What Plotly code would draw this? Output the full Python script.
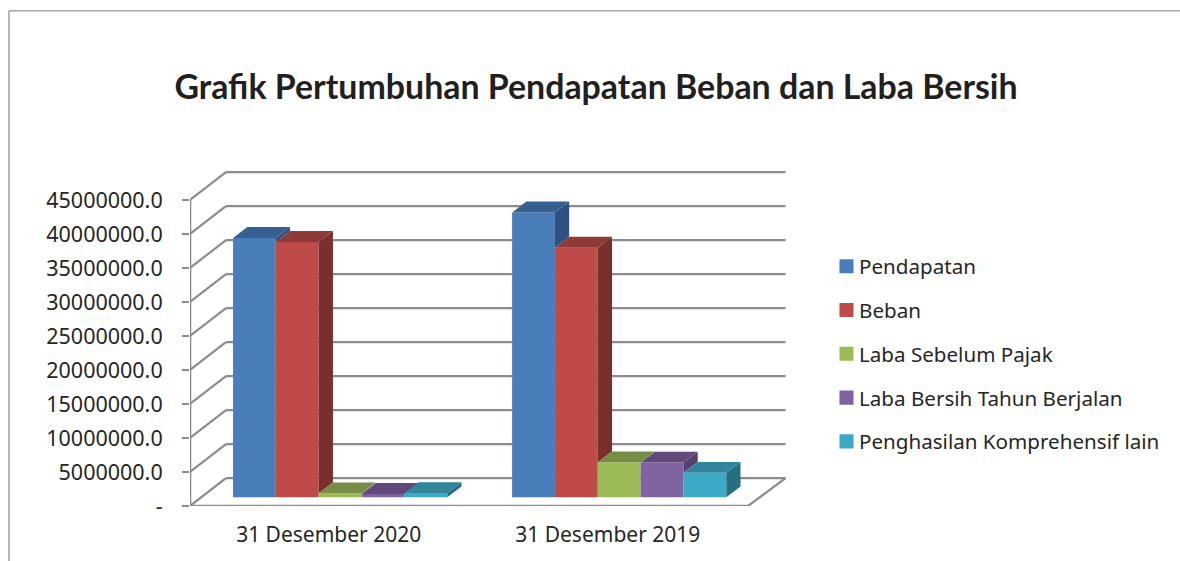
import plotly.graph_objects as go

periods = ["31 Desember 2020", "31 Desember 2019"]
pendapatan = [38150000, 41900000]
beban = [37550000, 36700000]
laba_sebelum_pajak = [590000, 5140000]
laba_bersih = [500000, 5100000]
penghasilan_komprehensif = [630000, 3600000]
series_names = ["Pendapatan", "Beban", "Laba Sebelum Pajak",
                "Laba Bersih Tahun Berjalan", "Penghasilan Komprehensif lain"]
y_ticks = [0, 5000000, 10000000, 15000000, 20000000, 25000000, 30000000,
           35000000, 40000000, 45000000]
y_labels = ["-"] + [f"{v}.0" for v in y_ticks[1:]]

all_series = [pendapatan, beban, laba_sebelum_pajak, laba_bersih, penghasilan_komprehensif]
front = ["#4a7ebb", "#be4b48", "#9bbb59", "#7f63a1", "#3caac6"]
top = ["#376092", "#8e3a38", "#768d45", "#604a7b", "#31859c"]
side = ["#2f5280", "#7b2f2d", "#65793b", "#54406c", "#256f80"]
GRID = "#8c8c8c"
TEXT = "#262626"

# geometry, in axis units
W = 0.1535           # bar width
WALL_DX, WALL_DY = 0.129, 4110000   # depth of the floor
BAR_DX, BAR_DY = 0.051, 1600000     # depth of a bar
OFF_DX, OFF_DY = 0.038, 1280000     # bar front plane behind the axis plane
XMIN, XMAX = -0.5, 1.65
YMAX = 50000000
FRONT_END = 1.5
BACK_END = 1.634

# plot rectangle in pixels
PW, PH = 1180, 561
L, R, T, B = 190, 790, 165.5, 506

fig = go.Figure()
shapes = []


def line(x0, y0, x1, y1, width=2.2):
    shapes.append(dict(type="line", xref="x", yref="y", x0=x0, y0=y0, x1=x1, y1=y1,
                       layer="below", line=dict(color=GRID, width=width)))


for v in y_ticks:
    line(XMIN, v, XMIN + WALL_DX, v + WALL_DY)
    line(XMIN + WALL_DX, v + WALL_DY, BACK_END, v + WALL_DY)
line(XMIN, 0, XMIN, y_ticks[-1], 2.6)
line(XMIN, 0, FRONT_END, 0, 2.6)
line(FRONT_END, 0, BACK_END, WALL_DY)

# front faces
for i, (name, vals) in enumerate(zip(series_names, all_series)):
    xs = [g + OFF_DX + (i - 2) * W for g in range(len(periods))]
    fig.add_trace(go.Bar(x=xs, y=vals, base=OFF_DY, width=W, name=name, legendgroup=name,
                         marker=dict(color=front[i], line=dict(width=0))))

# depth faces, left to right
for g in range(len(periods)):
    for i, vals in enumerate(all_series):
        x0 = g + OFF_DX + (i - 2.5) * W
        x1 = x0 + W
        h = vals[g] + OFF_DY
        nxt = (all_series[i + 1][g] + OFF_DY) if i + 1 < len(all_series) else OFF_DY
        low = min(nxt, h)
        fig.add_trace(go.Scatter(
            x=[x1, x1 + BAR_DX, x1 + BAR_DX, x1, x1],
            y=[h, h + BAR_DY, low + BAR_DY, low, h],
            mode="lines", fill="toself", fillcolor=side[i], line=dict(width=0),
            showlegend=False, hoverinfo="skip"))
        fig.add_trace(go.Scatter(
            x=[x0, x1, x1 + BAR_DX, x0 + BAR_DX, x0],
            y=[h, h, h + BAR_DY, h + BAR_DY, h],
            mode="lines", fill="toself", fillcolor=top[i], line=dict(width=0),
            showlegend=False, hoverinfo="skip"))

# outer frame, open on the right and at the bottom
px = lambda p: (p - L) / (R - L)
py = lambda p: (B - p) / (B - T)
for a, b, c, d in [(9, 561, 9, 10), (9, 10, 1180, 10)]:
    shapes.append(dict(type="line", xref="paper", yref="paper", x0=px(a), y0=py(b),
                       x1=px(c), y1=py(d), line=dict(color="#a6a6a6", width=1.6)))

fig.update_layout(
    width=PW, height=PH, paper_bgcolor="white", plot_bgcolor="white",
    margin=dict(l=L, r=PW - R, t=T, b=PH - B, pad=0),
    barmode="overlay", shapes=shapes, showlegend=True,
    font=dict(family="Noto Sans", color=TEXT),
    title=dict(text="<b>Grafik Pertumbuhan Pendapatan Beban dan Laba Bersih</b>",
               x=596 / PW, xanchor="center", y=1 - 87 / PH, yanchor="middle",
               font=dict(family="Lato", size=33.9, color="#231f20")),
    legend=dict(x=px(819), xanchor="left", y=py(246), yanchor="top", tracegroupgap=14,
                bgcolor="rgba(0,0,0,0)", font=dict(size=20.6, color=TEXT), itemclick=False),
    xaxis=dict(range=[XMIN, XMAX], tickmode="array", tickvals=[-0.003, 0.997],
               ticktext=periods, showgrid=False, zeroline=False, showline=False, ticks="",
               ticklabelstandoff=14, tickfont=dict(size=21, color=TEXT)),
    yaxis=dict(range=[0, YMAX], tickmode="array", tickvals=y_ticks, ticktext=y_labels,
               showgrid=False, zeroline=False, showline=False, ticks="outside", ticklen=7,
               tickwidth=2, tickcolor=GRID, ticklabelstandoff=15,
               tickfont=dict(size=21.5, color=TEXT)),
)

post = """
document.body.style.margin='0';document.body.style.overflow='hidden';
document.querySelectorAll('.legend .legendsymbols').forEach(function(g){
  g.setAttribute('transform','translate(7.5,0)');
  g.querySelectorAll('path').forEach(function(p){
    p.setAttribute('transform',(p.getAttribute('transform')||'')+' scale(1.17)');
  });
});
"""
fig.write_html("out.html", config={"displayModeBar": False}, post_script=post)
